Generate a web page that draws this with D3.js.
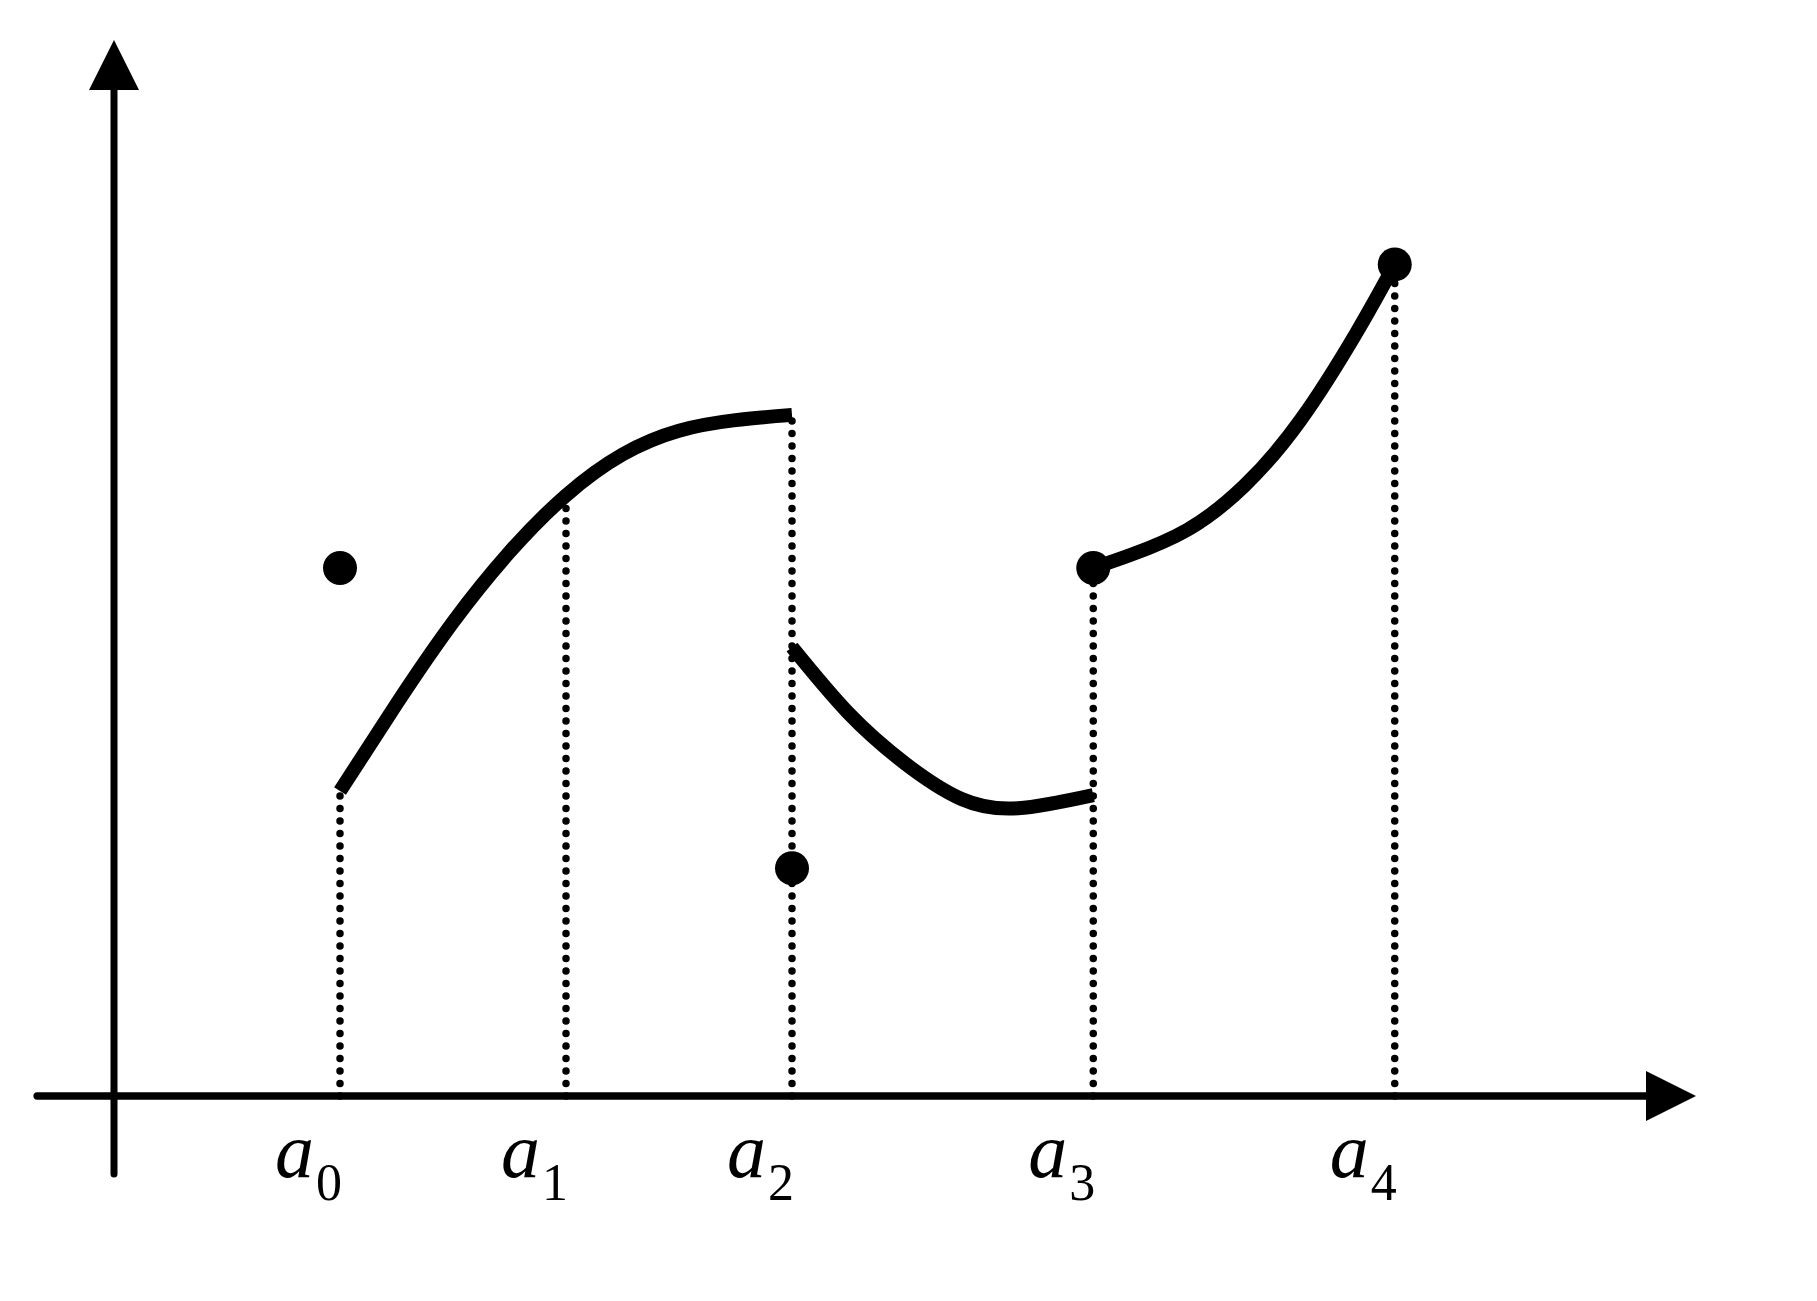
<!DOCTYPE html>
<html>
<head>
<meta charset="utf-8">
<script src="https://cdn.jsdelivr.net/npm/d3@7"></script>
<style>
  body { margin: 0; background: #fff; }
  svg { display: block; }
  text { font-family: "Liberation Serif", "Times New Roman", serif; }
</style>
</head>
<body>
<div id="chart"></div>
<script>
// tick labels and their positions on the x axis
var tickNames = ["0", "1", "2", "3", "4"];
var tickX = [1, 2, 3, 4.333, 5.667];

// the three pieces of the function
var piece1 = [[1.00, 2.31], [1.25, 2.97], [1.50, 3.59], [1.75, 4.12], [2.00, 4.55],
  [2.25, 4.86], [2.50, 5.04], [2.75, 5.12], [3.00, 5.16]];
var piece2 = [[3.00, 3.40], [3.25, 2.90], [3.50, 2.52], [3.75, 2.25], [4.00, 2.18], [4.333, 2.28]];
var piece3 = [[4.333, 4.00], [4.50, 4.10], [4.75, 4.29], [5.00, 4.62],
  [5.25, 5.12], [5.50, 5.79], [5.667, 6.30]];

// isolated / end points drawn as dots
var dots = [[1, 4.0], [3, 1.725], [4.333, 4.0], [5.667, 6.3]];

// height the dotted guide reaches at each tick
var guideTop = [2.31, 4.55, 5.16, 4.0, 6.3];

var width = 1817, height = 1301;

var x = d3.scaleLinear().domain([0, 7]).range([114, 1696]);
var y = d3.scaleLinear().domain([0, 8]).range([1096, 40]);

var svg = d3.select('#chart').append('svg')
  .attr('width', width)
  .attr('height', height)

svg.append('rect')
  .attr('width', width)
  .attr('height', height)
  .attr('fill', '#fff')

// dotted guides
svg.selectAll('line.guide')
  .data(tickX)
  .enter()
  .append('line')
  .attr('class', 'guide')
  .attr('x1', function(d) { return x(d); })
  .attr('x2', function(d) { return x(d); })
  .attr('y1', y(0))
  .attr('y2', function(d, i) { return y(guideTop[i]); })
  .attr('stroke', '#000')
  .attr('stroke-width', 7.5)
  .attr('stroke-linecap', 'round')
  .attr('stroke-dasharray', '0 12.5')

// axes
var xStart = -0.34, xEnd = 7, yStart = -0.59, yEnd = 8;
var head = 50;

svg.append('line')
  .attr('x1', x(xStart)).attr('x2', x(xEnd) - head)
  .attr('y1', y(0)).attr('y2', y(0))
  .attr('stroke', '#000')
  .attr('stroke-width', 7.5)
  .attr('stroke-linecap', 'round')

svg.append('path')
  .attr('d', 'M' + x(xEnd) + ',' + y(0) +
    'L' + (x(xEnd) - head) + ',' + (y(0) - head / 2) +
    'L' + (x(xEnd) - head) + ',' + (y(0) + head / 2) + 'Z')
  .attr('fill', '#000')

svg.append('line')
  .attr('x1', x(0)).attr('x2', x(0))
  .attr('y1', y(yStart)).attr('y2', y(yEnd) + head)
  .attr('stroke', '#000')
  .attr('stroke-width', 7)
  .attr('stroke-linecap', 'round')

svg.append('path')
  .attr('d', 'M' + x(0) + ',' + y(yEnd) +
    'L' + (x(0) - head / 2) + ',' + (y(yEnd) + head) +
    'L' + (x(0) + head / 2) + ',' + (y(yEnd) + head) + 'Z')
  .attr('fill', '#000')

// function pieces
var line = d3.line()
  .x(function(d) { return x(d[0]); })
  .y(function(d) { return y(d[1]); })
  .curve(d3.curveNatural)

svg.selectAll('path.piece')
  .data([piece1, piece2, piece3])
  .enter()
  .append('path')
  .attr('class', 'piece')
  .attr('d', line)
  .attr('fill', 'none')
  .attr('stroke', '#000')
  .attr('stroke-width', 14)
  .attr('stroke-linejoin', 'round')

svg.selectAll('circle.dot')
  .data(dots)
  .enter()
  .append('circle')
  .attr('class', 'dot')
  .attr('cx', function(d) { return x(d[0]); })
  .attr('cy', function(d) { return y(d[1]); })
  .attr('r', 17)
  .attr('fill', '#000')

// labels a_0 ... a_4
var labels = svg.selectAll('text.tick')
  .data(tickX)
  .enter()
  .append('text')
  .attr('class', 'tick')
  .attr('x', function(d) { return x(d) + 2; })
  .attr('y', 1177)
  .attr('text-anchor', 'end')
  .attr('fill', '#000')

labels.append('tspan')
  .attr('font-style', 'italic')
  .attr('font-size', 78)
  .text('a')

labels.append('tspan')
  .attr('font-size', 52)
  .attr('dy', 23)
  .attr('dx', 2)
  .text(function(d, i) { return tickNames[i]; })
</script>
</body>
</html>
